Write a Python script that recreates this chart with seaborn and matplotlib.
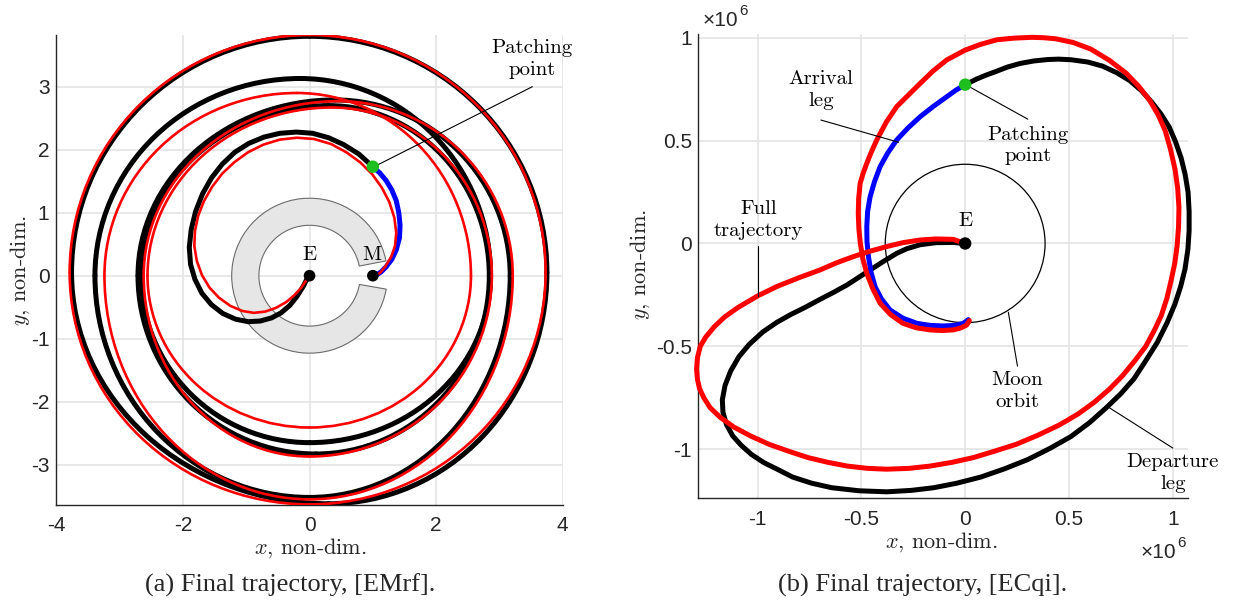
import numpy as np
import matplotlib
matplotlib.use("Agg")
import matplotlib.pyplot as plt
from matplotlib.patches import Wedge, Circle, Arc
from matplotlib.ticker import FuncFormatter
import seaborn as sns

# (a) EMrf -- rotating frame, non-dim units
emrf_black_inner = [(0.0, 0.0), (-0.04, -0.05), (-0.1, -0.17), (-0.2, -0.33), (-0.31, -0.47),
                    (-0.45, -0.59), (-0.6, -0.67), (-0.78, -0.72), (-0.97, -0.73), (-1.17, -0.69),
                    (-1.37, -0.6), (-1.55, -0.46), (-1.7, -0.28), (-1.81, -0.06), (-1.88, 0.18),
                    (-1.9, 0.45), (-1.87, 0.73), (-1.8, 1.02), (-1.69, 1.3), (-1.55, 1.55),
                    (-1.38, 1.77), (-1.18, 1.96), (-0.96, 2.1), (-0.72, 2.2), (-0.47, 2.26),
                    (-0.21, 2.28), (0.05, 2.26), (0.3, 2.19), (0.54, 2.08), (0.78, 1.93), (1.0, 1.73)]
emrf_blue = [(1.0, 1.73), (1.11, 1.63), (1.21, 1.51), (1.3, 1.36), (1.37, 1.19), (1.41, 1.0),
             (1.43, 0.8), (1.42, 0.6), (1.37, 0.41), (1.3, 0.26), (1.21, 0.14), (1.13, 0.06),
             (1.07, 0.02), (1.03, 0.0)]
emrf_red_inner = [(0.0, 0.0), (-0.05, -0.07), (-0.13, -0.19), (-0.24, -0.31), (-0.37, -0.42),
                  (-0.53, -0.51), (-0.7, -0.57), (-0.88, -0.59), (-1.06, -0.56), (-1.25, -0.48),
                  (-1.43, -0.35), (-1.58, -0.19), (-1.7, 0.01), (-1.78, 0.23), (-1.82, 0.47),
                  (-1.81, 0.71), (-1.76, 0.95), (-1.67, 1.18), (-1.54, 1.41), (-1.38, 1.62),
                  (-1.19, 1.8), (-0.97, 1.96), (-0.73, 2.08), (-0.47, 2.16), (-0.2, 2.19),
                  (0.07, 2.17), (0.34, 2.09), (0.58, 1.96), (0.8, 1.8), (0.99, 1.61), (1.14, 1.4),
                  (1.26, 1.17), (1.34, 0.92), (1.37, 0.68), (1.35, 0.47), (1.29, 0.3), (1.2, 0.15),
                  (1.12, 0.05), (1.06, 0.01), (1.02, 0.0)]
# big loops: successive extreme points (top, right, bottom, left, ...) in clockwise order
emrf_black_outer = [(0.0, 3.80), (3.75, 0.05), (0.3, -3.62), (-3.76, 0.05), (0.0, 3.80)]
emrf_red_outer = [(0.0, 3.82), (3.73, 0.05), (0.0, -3.63), (-3.79, 0.05), (0.0, 3.82)]
emrf_black_spiral = [(0.3, 2.70), (2.84, 0.0), (0.1, -2.83), (-2.71, 0.0),
                     (0.4, 2.79), (3.17, 0.0), (0.0, -3.52), (-3.39, 0.0),
                     (-0.15, 3.13), (2.86, 0.0), (0.0, -2.65), (-2.66, 0.0), (0.3, 2.70)]
emrf_red_spiral = [(-0.2, 2.90), (2.55, 0.0), (0.0, -2.41), (-2.56, 0.0),
                   (0.35, 2.67), (2.88, 0.0), (0.0, -2.87), (-2.62, 0.0),
                   (0.45, 2.77), (3.21, 0.0), (0.0, -3.55), (-3.24, 0.0), (-0.2, 2.90)]
emrf_earth = (0.0, 0.0)
emrf_moon = (1.0, 0.0)
emrf_patch = (1.0, 1.73)

# (b) ECqi -- values in units of 1e6
ecqi_black = [(0.0, 0.0), (-0.057, 0.005), (-0.14, 0.004), (-0.217, -0.006), (-0.28, -0.025),
              (-0.33, -0.048), (-0.395, -0.088), (-0.458, -0.129), (-0.515, -0.166), (-0.57, -0.202),
              (-0.635, -0.238), (-0.70, -0.272), (-0.77, -0.31), (-0.84, -0.345), (-0.907, -0.383),
              (-0.975, -0.43), (-1.04, -0.49), (-1.09, -0.55), (-1.13, -0.62), (-1.157, -0.69),
              (-1.17, -0.76), (-1.167, -0.82), (-1.15, -0.88), (-1.12, -0.935), (-1.08, -0.98),
              (-1.03, -1.025), (-0.97, -1.065), (-0.9, -1.1), (-0.832, -1.135), (-0.74, -1.165),
              (-0.643, -1.187), (-0.51, -1.202), (-0.378, -1.207), (-0.26, -1.2), (-0.151, -1.187),
              (-0.04, -1.165), (0.076, -1.135), (0.19, -1.095), (0.302, -1.05), (0.41, -0.995),
              (0.51, -0.938), (0.6, -0.87), (0.68, -0.798), (0.75, -0.73), (0.813, -0.658),
              (0.87, -0.57), (0.926, -0.48), (0.973, -0.385), (1.011, -0.293), (1.038, -0.21),
              (1.059, -0.125), (1.073, -0.03), (1.079, 0.062), (1.079, 0.155), (1.074, 0.249),
              (1.06, 0.335), (1.04, 0.417), (1.014, 0.493), (0.983, 0.566), (0.943, 0.63),
              (0.898, 0.688), (0.85, 0.742), (0.794, 0.791), (0.73, 0.83), (0.662, 0.862),
              (0.59, 0.882), (0.51, 0.893), (0.45, 0.896), (0.397, 0.894), (0.33, 0.887),
              (0.265, 0.875), (0.205, 0.858), (0.151, 0.837), (0.1, 0.818), (0.057, 0.80),
              (0.0, 0.772)]
ecqi_red = [(0.0, 0.0), (-0.057, 0.02), (-0.14, 0.022), (-0.217, 0.017), (-0.3, 0.004),
            (-0.378, -0.015), (-0.46, -0.038), (-0.539, -0.064), (-0.62, -0.094), (-0.70, -0.129),
            (-0.8, -0.166), (-0.907, -0.209), (-1.0, -0.255), (-1.096, -0.312), (-1.16, -0.358),
            (-1.21, -0.406), (-1.25, -0.455), (-1.276, -0.499), (-1.29, -0.555), (-1.294, -0.611),
            (-1.29, -0.66), (-1.28, -0.705), (-1.258, -0.752), (-1.229, -0.798), (-1.18, -0.845),
            (-1.115, -0.892), (-1.035, -0.935), (-0.945, -0.976), (-0.85, -1.01), (-0.756, -1.041),
            (-0.66, -1.064), (-0.567, -1.082), (-0.47, -1.093), (-0.378, -1.097), (-0.27, -1.093),
            (-0.17, -1.082), (-0.065, -1.064), (0.038, -1.041), (0.14, -1.01), (0.246, -0.976),
            (0.35, -0.932), (0.454, -0.882), (0.545, -0.828), (0.624, -0.77), (0.695, -0.708),
            (0.756, -0.645), (0.815, -0.573), (0.87, -0.5), (0.91, -0.425), (0.945, -0.35),
            (0.972, -0.266), (0.992, -0.181), (1.01, -0.095), (1.021, -0.013), (1.028, 0.08),
            (1.03, 0.174), (1.024, 0.268), (1.011, 0.361), (0.99, 0.455), (0.964, 0.548),
            (0.93, 0.625), (0.888, 0.697), (0.835, 0.765), (0.775, 0.828), (0.695, 0.89),
            (0.605, 0.945), (0.52, 0.977), (0.435, 0.995), (0.38, 1.0), (0.321, 1.002),
            (0.235, 0.998), (0.152, 0.99), (0.075, 0.968), (0.0, 0.94), (-0.089, 0.892),
            (-0.155, 0.838), (-0.217, 0.778), (-0.275, 0.72), (-0.33, 0.665), (-0.38, 0.59),
            (-0.426, 0.503), (-0.452, 0.445), (-0.474, 0.39), (-0.492, 0.34), (-0.506, 0.292),
            (-0.513, 0.22), (-0.515, 0.147), (-0.512, 0.07), (-0.505, 0.0), (-0.493, -0.075),
            (-0.474, -0.145), (-0.445, -0.22), (-0.41, -0.29), (-0.36, -0.345), (-0.30, -0.388),
            (-0.235, -0.41), (-0.17, -0.42), (-0.11, -0.423), (-0.057, -0.42), (-0.02, -0.41),
            (0.008, -0.396), (0.02, -0.375)]
ecqi_blue = [(0.0, 0.772), (-0.045, 0.745), (-0.089, 0.713), (-0.155, 0.665), (-0.217, 0.616),
             (-0.275, 0.562), (-0.33, 0.503), (-0.373, 0.44), (-0.41, 0.373), (-0.437, 0.3),
             (-0.458, 0.227), (-0.47, 0.155), (-0.474, 0.082), (-0.473, 0.01), (-0.466, -0.064),
             (-0.454, -0.138), (-0.434, -0.21), (-0.403, -0.27), (-0.362, -0.323), (-0.3, -0.363),
             (-0.233, -0.388), (-0.17, -0.398), (-0.105, -0.401), (-0.05, -0.398), (-0.009, -0.388),
             (0.015, -0.37)]
ecqi_earth = (0.0, 0.0)
ecqi_patch = (0.0, 0.772)
moon_orbit_radius = 0.385

DARK = "#262626"
GRID = "#e2e2e2"

sns.set_style("white")
plt.rcParams["font.family"] = ["Liberation Sans", "DejaVu Sans"]
plt.rcParams["mathtext.fontset"] = "cm"
plt.rcParams["axes.unicode_minus"] = False

fig = plt.figure(figsize=(12.33, 6.04), dpi=100)
ax1 = fig.add_axes([0.0457, 0.1639, 0.4107, 0.7781])
ax2 = fig.add_axes([0.5658, 0.1755, 0.3976, 0.7685])


def trace(ax, pts, color, lw, z, clip=True):
    a = np.array(pts, dtype=float)
    sns.lineplot(x=a[:, 0], y=a[:, 1], sort=False, estimator=None, color=color,
                 linewidth=lw, ax=ax, zorder=z, solid_joinstyle="round",
                 solid_capstyle="round", clip_on=clip)


def loops(ax, ext, color, lw, z):
    # quarter ellipses between consecutive extreme points (tangents match at the joins)
    for (x0, y0), (x1, y1) in zip(ext[:-1], ext[1:]):
        if x1 > x0 and y1 < y0:      # top -> right
            c, t = (x0, y1), (0, 90)
        elif x1 < x0 and y1 < y0:    # right -> bottom
            c, t = (x1, y0), (270, 360)
        elif x1 < x0 and y1 > y0:    # bottom -> left
            c, t = (x0, y1), (180, 270)
        else:                        # left -> top
            c, t = (x1, y0), (90, 180)
        ax.add_patch(Arc(c, 2 * abs(x1 - x0), 2 * abs(y1 - y0), theta1=t[0], theta2=t[1],
                         color=color, lw=lw, zorder=z, capstyle="round"))


def dot(ax, p, color, s, z=7):
    sns.scatterplot(x=[p[0]], y=[p[1]], color=color, s=s, edgecolor="none",
                    ax=ax, zorder=z, clip_on=False)


def style(ax):
    ax.grid(True, color=GRID, lw=1.1)
    ax.set_axisbelow(True)
    for s in ["top", "right"]:
        ax.spines[s].set_visible(False)
    for s in ["left", "bottom"]:
        ax.spines[s].set_color(DARK)
        ax.spines[s].set_linewidth(1.0)
    ax.tick_params(direction="in", length=4, width=0.8, colors=DARK, labelsize=15)
    ax.xaxis.set_major_formatter(FuncFormatter(lambda v, p: "%g" % v))
    ax.yaxis.set_major_formatter(FuncFormatter(lambda v, p: "%g" % v))
    ax.set_xlabel("")
    ax.set_ylabel("")


cm = dict(fontfamily="cmr10", color="black")

# ---------- panel (a) ----------
ax1.add_patch(Wedge(emrf_earth, 1.23, 11, 350, width=0.43, facecolor="#e6e6e6",
                    edgecolor="#6b6b6b", lw=0.8, zorder=1.5))
loops(ax1, emrf_black_outer, "black", 3.6, 2)
loops(ax1, emrf_black_spiral, "black", 3.6, 2)
trace(ax1, emrf_black_inner, "black", 3.6, 2)
trace(ax1, emrf_blue, "blue", 3.6, 3)
loops(ax1, emrf_red_outer, "red", 1.9, 4)
loops(ax1, emrf_red_spiral, "red", 1.9, 4)
trace(ax1, emrf_red_inner, "red", 1.9, 4)
dot(ax1, emrf_earth, "black", 70)
dot(ax1, emrf_moon, "black", 70)
dot(ax1, emrf_patch, "#1fbf1f", 80)
ax1.plot([1.02, 3.52], [1.73, 3.0], color="black", lw=0.8, zorder=5)
ax1.text(3.52, 3.44, "Patching\npoint", ha="center", va="center", fontsize=15,
         linespacing=1.25, **cm)
ax1.text(0.0, 0.33, "E", ha="center", va="center", fontsize=15, zorder=8, **cm)
ax1.text(0.98, 0.33, "M", ha="center", va="center", fontsize=15, zorder=8, **cm)

ax1.set_xlim(-4, 4)
ax1.set_ylim(-3.64, 3.82)
ax1.set_xticks([-4, -2, 0, 2, 4])
ax1.set_yticks([-3, -2, -1, 0, 1, 2, 3])
style(ax1)
ax1.tick_params(axis="x", pad=8)
ax1.tick_params(axis="y", pad=5)
ax1.set_xlabel(r"$x$, non-dim.", fontsize=16, fontfamily="cmr10")
ax1.set_ylabel(r"$y$, non-dim.", fontsize=16, fontfamily="cmr10")
ax1.xaxis.set_label_coords(0.501, -0.0915)
ax1.xaxis.label.set_va("center")
ax1.yaxis.set_label_coords(-0.072, 0.5)
ax1.yaxis.label.set_va("center")

# ---------- panel (b) ----------
ax2.add_patch(Circle(ecqi_earth, moon_orbit_radius, fill=False, edgecolor="black",
                     lw=0.9, zorder=2))
trace(ax2, ecqi_black, "black", 3.6, 3, clip=False)
trace(ax2, ecqi_blue, "blue", 3.6, 4, clip=False)
trace(ax2, ecqi_red, "red", 3.6, 5, clip=False)
dot(ax2, ecqi_earth, "black", 80)
dot(ax2, ecqi_patch, "#1fbf1f", 80)

leaders = [((-0.695, -0.321), (0.60, 0.492)),
           ((0.009, 0.302), (0.768, 0.604)),
           ((-0.996, -0.996), (-0.012, -0.255)),
           ((0.208, 0.252), (-0.334, -0.596)),
           ((0.68, 1.0), (-0.789, -0.994))]
for xs, ys in leaders:
    ax2.plot(xs, ys, color="black", lw=0.8, zorder=6, clip_on=False)

ax2.text(-0.695, 0.746, "Arrival\nleg", ha="center", va="center", fontsize=15, linespacing=1.25, **cm)
ax2.text(0.302, 0.477, "Patching\npoint", ha="center", va="center", fontsize=15, linespacing=1.25, **cm)
ax2.text(-0.996, 0.114, "Full\ntrajectory", ha="center", va="center", fontsize=15, linespacing=1.25, **cm)
ax2.text(0.252, -0.717, "Moon\norbit", ha="center", va="center", fontsize=15, linespacing=1.25, **cm)
ax2.text(1.0, -1.115, "Departure\nleg", ha="center", va="center", fontsize=15, linespacing=1.25,
         clip_on=False, **cm)
ax2.text(0.0, 0.108, "E", ha="center", va="center", fontsize=15, zorder=8, **cm)

ax2.set_xlim(-1.289, 1.073)
ax2.set_ylim(-1.237, 1.019)
ax2.set_xticks([-1, -0.5, 0, 0.5, 1])
ax2.set_yticks([-1, -0.5, 0, 0.5, 1])
style(ax2)
ax2.tick_params(axis="x", pad=9)
ax2.tick_params(axis="y", pad=4)
ax2.set_xlabel(r"$x$, non-dim.", fontsize=16, fontfamily="cmr10")
ax2.set_ylabel(r"$y$, non-dim.", fontsize=16, fontfamily="cmr10")
ax2.xaxis.set_label_coords(0.498, -0.095)
ax2.xaxis.label.set_va("center")
ax2.yaxis.set_label_coords(-0.118, 0.502)
ax2.yaxis.label.set_va("center")

# x10^6 multipliers
fig.text(720 / 1233, 1 - 20 / 604, "\u00d710", fontsize=15, color=DARK, ha="center", va="center")
fig.text(744 / 1233, 1 - 11 / 604, "6", fontsize=11, color=DARK, ha="center", va="center")
fig.text(1158 / 1233, 1 - 553 / 604, "\u00d710", fontsize=15, color=DARK, ha="center", va="center")
fig.text(1182 / 1233, 1 - 543 / 604, "6", fontsize=11, color=DARK, ha="center", va="center")

# captions
fig.text(290 / 1233, 1 - 585 / 604, "(a) Final trajectory, [EMrf].", fontsize=19,
         fontfamily="Liberation Serif", ha="center", va="center")
fig.text(923 / 1233, 1 - 585 / 604, "(b) Final trajectory, [ECqi].", fontsize=19,
         fontfamily="Liberation Serif", ha="center", va="center")

fig.savefig("out.png", dpi=100)
